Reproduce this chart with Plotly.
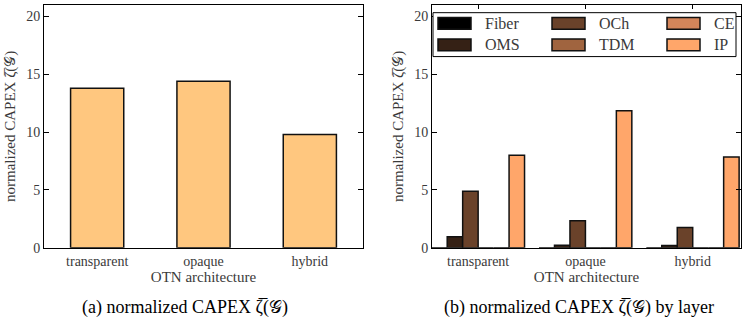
import plotly.graph_objects as go

architectures = ["transparent", "opaque", "hybrid"]
total_capex = [13.8, 14.4, 9.8]

layers = ["Fiber", "OMS", "OCh", "TDM", "CE", "IP"]
layer_capex = {
    "Fiber": [0.0, 0.0, 0.0],
    "OMS": [0.95, 0.22, 0.2],
    "OCh": [4.9, 2.35, 1.75],
    "TDM": [0.0, 0.0, 0.0],
    "CE": [0.0, 0.0, 0.0],
    "IP": [8.0, 11.85, 7.85],
}
layer_colors = ["#000000", "#352115", "#6a422a", "#a0643f", "#d4855a", "#ffa66a"]
# legend grid position (column, row) of each layer
legend_slot = {"Fiber": (0, 0), "OMS": (0, 1), "OCh": (1, 0), "TDM": (1, 1), "CE": (2, 0), "IP": (2, 1)}
y_ticks = [0, 5, 10, 15, 20]

FONT = "Liberation Serif"
TXT = "#3a3a3a"
W, H = 742, 329

fig = go.Figure()
fig.add_trace(go.Bar(x=architectures, y=total_capex, width=0.5,
                     marker=dict(color="#ffc77f", line=dict(color="#111", width=1.5)),
                     showlegend=False, xaxis="x", yaxis="y"))
for name, col in zip(layers, layer_colors):
    fig.add_trace(go.Bar(x=architectures, y=layer_capex[name], name=name,
                         marker=dict(color=col, line=dict(color="#111", width=1.5)),
                         showlegend=False, xaxis="x2", yaxis="y2"))


def px_x(p):
    return p / W


def px_y(p):
    return 1 - p / H


ydom = [px_y(254), px_y(5)]
axis_common = dict(showline=True, linecolor="black", linewidth=1, mirror=True,
                   tickfont=dict(family=FONT, size=14, color=TXT), showgrid=False,
                   zeroline=False)
yaxis_common = dict(axis_common, range=[0, 21], tickvals=y_ticks, ticks="inside",
                    ticklen=5, tickcolor="black", mirror="ticks",
                    title=dict(text="normalized CAPEX ζ̅(𝒢)", font=dict(family=FONT, size=15, color=TXT),
                               standoff=6))
xaxis_common = dict(axis_common, ticks="", range=[-0.5, 2.5],
                    title=dict(text="OTN architecture", font=dict(family=FONT, size=15, color=TXT),
                               standoff=2))

shapes = []
annotations = [
    dict(text="(a) normalized CAPEX ζ̅(𝒢)", x=px_x(185), y=px_y(315), xref="paper", yref="paper",
         xanchor="center", yanchor="middle", showarrow=False,
         font=dict(family=FONT, size=18, color="black")),
    dict(text="(b) normalized CAPEX ζ̅(𝒢) by layer", x=px_x(579), y=px_y(315), xref="paper", yref="paper",
         xanchor="center", yanchor="middle", showarrow=False,
         font=dict(family=FONT, size=18, color="black")),
]

# custom legend box
shapes.append(dict(type="rect", xref="paper", yref="paper", x0=px_x(433), x1=px_x(736),
                   y0=px_y(58), y1=px_y(13), line=dict(color="black", width=1), fillcolor="white",
                   layer="above"))
col_x = [438, 552, 667]
row_y = [24, 46]
for name, col in zip(layers, layer_colors):
    c, r = legend_slot[name]
    sx, sy = col_x[c], row_y[r]
    shapes.append(dict(type="rect", xref="paper", yref="paper", x0=px_x(sx), x1=px_x(sx + 33),
                       y0=px_y(sy + 6), y1=px_y(sy - 6), fillcolor=col,
                       line=dict(color="#111", width=1.5), layer="above"))
    annotations.append(dict(text=name, x=px_x(sx + 45), y=px_y(sy), xref="paper", yref="paper",
                            xanchor="left", yanchor="middle", showarrow=False,
                            font=dict(family=FONT, size=16, color=TXT)))

fig.update_layout(
    width=W, height=H, margin=dict(l=0, r=0, t=0, b=0),
    plot_bgcolor="white", paper_bgcolor="white",
    barmode="group", bargap=0.135, bargroupgap=0, showlegend=False,
    xaxis=dict(xaxis_common, domain=[px_x(44), px_x(363)], anchor="y"),
    yaxis=dict(yaxis_common, domain=ydom, anchor="x"),
    xaxis2=dict(xaxis_common, domain=[px_x(432), px_x(741)], anchor="y2", range=[-0.43, 2.45]),
    yaxis2=dict(yaxis_common, domain=ydom, anchor="x2"),
    xaxis3=dict(overlaying="x2", side="top", anchor="y2", range=[-0.43, 2.45],
                tickvals=[0, 1, 2], ticks="inside", ticklen=4, tickcolor="black",
                showticklabels=False, showgrid=False, zeroline=False, showline=False),
    shapes=shapes,
    annotations=annotations,
)
# invisible helper trace so the top tick axis is drawn
fig.add_trace(go.Scatter(x=[0], y=[0], xaxis="x3", yaxis="y2", mode="markers",
                         marker=dict(opacity=0), showlegend=False, hoverinfo="skip"))

fig.write_html("out.html")
